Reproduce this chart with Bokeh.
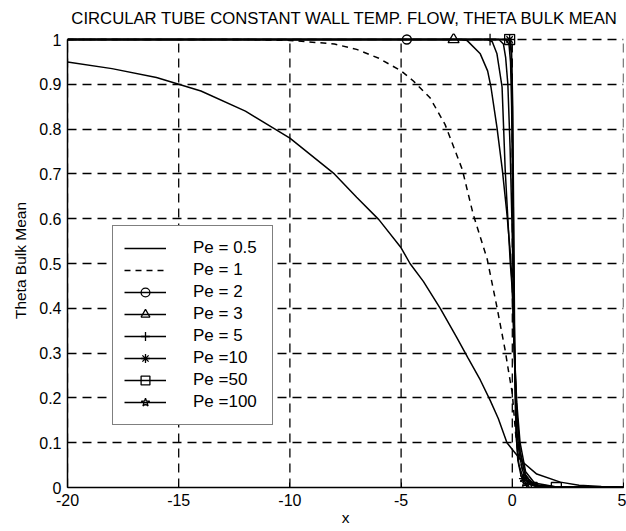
from bokeh.plotting import figure
from bokeh.models import Range1d, FixedTicker, Legend, LegendItem
from bokeh.embed import file_html
from bokeh.resources import INLINE

# ---------------- data ----------------
title_text = "CIRCULAR TUBE CONSTANT WALL TEMP. FLOW, THETA BULK MEAN"
x_label = "x"
y_label = "Theta Bulk Mean"

x_ticks = [-20, -15, -10, -5, 0, 5]
x_tick_labels = ["-20", "-15", "-10", "-5", "0", "5"]
y_ticks = [0, 0.1, 0.2, 0.3, 0.4, 0.5, 0.6, 0.7, 0.8, 0.9, 1]
y_tick_labels = ["0", "0.1", "0.2", "0.3", "0.4", "0.5", "0.6", "0.7", "0.8", "0.9", "1"]

series_names = ["Pe = 0.5", "Pe = 1", "Pe = 2", "Pe = 3", "Pe = 5", "Pe =10", "Pe =50", "Pe =100"]

x_pe05 = [-20, -18, -16, -15, -14, -12, -10, -8, -7, -6, -5, -4.6, -4, -3.24, -2.5, -2,
          -1.44, -1, -0.63, -0.24, 0, 0.44, 1.1, 2.16, 3, 4, 5]
t_pe05 = [0.95, 0.935, 0.915, 0.90, 0.885, 0.84, 0.78, 0.70, 0.648, 0.598, 0.535, 0.50, 0.46,
          0.40, 0.335, 0.29, 0.24, 0.195, 0.154, 0.10, 0.085, 0.058, 0.03, 0.012, 0.005, 0.002, 0.001]

x_pe1 = [-20, -12, -10, -8, -7, -6, -5, -4.46, -3.7, -3.02, -2.25, -1.76, -1.13, -0.68, -0.32,
         -0.17, 0, 0.15, 0.3, 0.5, 0.8, 1.2, 2, 5]
t_pe1 = [1.0, 1.0, 0.998, 0.99, 0.978, 0.958, 0.93, 0.908, 0.87, 0.81, 0.71, 0.61, 0.51, 0.40, 0.306,
         0.26, 0.21, 0.12, 0.065, 0.035, 0.015, 0.006, 0.001, 0.0]

x_pe2 = [-20, -2.3, -2.04, -1.44, -1.11, -0.96, -0.69, -0.45, -0.24, -0.1, 0, 0.1, 0.2, 0.35,
         0.6, 1.0, 2, 5]
t_pe2 = [1.0, 1.0, 0.998, 0.968, 0.93, 0.894, 0.804, 0.71, 0.61, 0.53, 0.45, 0.30, 0.19, 0.10,
         0.035, 0.01, 0.001, 0.0]

x_pe3 = [-20, -1.1, -0.9, -0.69, -0.46, -0.32, -0.2, -0.09, 0, 0.1, 0.2, 0.35, 0.6, 1.0, 2, 5]
t_pe3 = [1.0, 1.0, 0.995, 0.968, 0.894, 0.71, 0.6, 0.5, 0.44, 0.28, 0.17, 0.08, 0.025, 0.006,
         0.001, 0.0]

x_pe5 = [-20, -0.6, -0.4, -0.3, -0.2, -0.1, 0, 0.05, 0.1, 0.2, 0.35, 0.6, 1.0, 2, 5]
t_pe5 = [1.0, 1.0, 0.99, 0.96, 0.9, 0.76, 0.56, 0.42, 0.30, 0.17, 0.08, 0.025, 0.005, 0.001, 0.0]

x_pe10 = [-20, -0.3, -0.15, -0.08, -0.03, 0, 0.05, 0.1, 0.15, 0.22, 0.3, 0.45, 0.6, 0.8, 1.2, 2, 5]
t_pe10 = [1.0, 1.0, 0.99, 0.95, 0.85, 0.72, 0.5, 0.32, 0.2, 0.12, 0.08, 0.04, 0.02, 0.01, 0.004,
          0.001, 0.0]

x_pe50 = [-20, -0.12, -0.05, 0, 0.05, 0.1, 0.15, 0.2, 0.3, 0.5, 0.8, 1.2, 2, 5]
t_pe50 = [1.0, 1.0, 0.97, 0.85, 0.6, 0.3, 0.16, 0.1, 0.05, 0.02, 0.008, 0.003, 0.001, 0.0]

x_pe100 = [-20, -0.08, -0.03, 0.02, 0.07, 0.12, 0.17, 0.25, 0.4, 0.6, 1.0, 2, 5]
t_pe100 = [1.0, 1.0, 0.97, 0.85, 0.55, 0.25, 0.12, 0.06, 0.025, 0.01, 0.003, 0.001, 0.0]

# marker positions seen on the curves
mx_pe2 = [-4.74]
mt_pe2 = [1.0]
mx_pe3 = [-2.64]
mt_pe3 = [1.0]
mx_pe5 = [-1.0]
mt_pe5 = [1.0]
mx_pe10 = [-0.12, 0.5]
mt_pe10 = [1.0, 0.02]
mx_pe50 = [-0.12, 0.89, 1.98]
mt_pe50 = [1.0, 0.0, 0.0]
mx_pe100 = [0.6, 0.75]
mt_pe100 = [0.012, 0.006]

# ---------------- figure ----------------
FONT = "Liberation Sans"
Y_TOP = 1.0134  # small headroom so markers sitting on theta = 1 are not clipped

p = figure(width=626, height=531, output_backend="svg", toolbar_location=None,
           x_range=Range1d(-20, 5), y_range=Range1d(0, Y_TOP),
           min_border_left=67, min_border_top=33, min_border_right=3, min_border_bottom=44,
           background_fill_color="white", border_fill_color="white")
p.outline_line_color = None

p.title.text = title_text
p.title.align = "center"
p.title.text_font = FONT
p.title.text_font_size = "16.7px"
p.title.text_font_style = "normal"
p.title.text_color = "black"
p.title.offset = 0
p.title.standoff = 11

for ax in (p.xaxis[0], p.yaxis[0]):
    ax.axis_line_color = "black"
    ax.axis_line_width = 1.5
    ax.major_tick_in = 5
    ax.major_tick_out = 0
    ax.major_tick_line_color = "black"
    ax.major_tick_line_width = 1
    ax.minor_tick_line_color = None
    ax.major_label_text_font = FONT
    ax.major_label_text_font_size = "16px"
    ax.major_label_text_color = "black"
    ax.axis_label_text_font = FONT
    ax.axis_label_text_font_size = "15.5px"
    ax.axis_label_text_font_style = "normal"
    ax.axis_label_text_color = "black"

p.xaxis.ticker = FixedTicker(ticks=x_ticks)
p.yaxis.ticker = FixedTicker(ticks=y_ticks)
p.xaxis.major_label_overrides = dict(zip(x_ticks, x_tick_labels))
p.yaxis.major_label_overrides = dict(zip(y_ticks, y_tick_labels))
p.xaxis.axis_label = x_label
p.yaxis.axis_label = y_label
p.xaxis.major_label_standoff = 6
p.yaxis.major_label_standoff = 6
p.xaxis.axis_label_standoff = 0
p.yaxis.axis_label_standoff = 7
p.yaxis.bounds = (y_ticks[0], y_ticks[-1])

GRID = dict(line_color="black", line_width=1.3, line_dash="9 6")
# horizontal grid from Bokeh; vertical grid lines stop at theta = 1
p.ygrid.grid_line_color = GRID["line_color"]
p.ygrid.grid_line_width = GRID["line_width"]
p.ygrid.grid_line_dash = GRID["line_dash"]
p.xgrid.grid_line_color = None
p.segment(x0=x_ticks, y0=[y_ticks[0]] * len(x_ticks), x1=x_ticks, y1=[y_ticks[-1]] * len(x_ticks),
          level="underlay", **GRID)

LW = 1.5
r05 = p.line(x_pe05, t_pe05, line_color="black", line_width=LW)
r1 = p.line(x_pe1, t_pe1, line_color="black", line_width=LW, line_dash="6 5")
r2 = p.line(x_pe2, t_pe2, line_color="black", line_width=LW)
r3 = p.line(x_pe3, t_pe3, line_color="black", line_width=LW)
r5 = p.line(x_pe5, t_pe5, line_color="black", line_width=LW)
r10 = p.line(x_pe10, t_pe10, line_color="black", line_width=LW)
r50 = p.line(x_pe50, t_pe50, line_color="black", line_width=LW)
r100 = p.line(x_pe100, t_pe100, line_color="black", line_width=LW)

mk = dict(line_color="black", line_width=1.3, fill_alpha=0)
m2 = p.scatter(mx_pe2, mt_pe2, marker="circle", size=9, **mk)
m3 = p.scatter(mx_pe3, mt_pe3, marker="triangle", size=11, **mk)
m5 = p.scatter(mx_pe5, mt_pe5, marker="cross", size=12, **mk)
m10 = p.scatter(mx_pe10, mt_pe10, marker="asterisk", size=9, **mk)
m50 = p.scatter(mx_pe50, mt_pe50, marker="square", size=10, **mk)
m100 = p.scatter(mx_pe100, mt_pe100, marker="star", size=11, **mk)

items = [
    LegendItem(label=series_names[0], renderers=[r05]),
    LegendItem(label=series_names[1], renderers=[r1]),
    LegendItem(label=series_names[2], renderers=[r2, m2]),
    LegendItem(label=series_names[3], renderers=[r3, m3]),
    LegendItem(label=series_names[4], renderers=[r5, m5]),
    LegendItem(label=series_names[5], renderers=[r10, m10]),
    LegendItem(label=series_names[6], renderers=[r50, m50]),
    LegendItem(label=series_names[7], renderers=[r100, m100]),
]
legend = Legend(items=items, location=(45, 62))
legend.border_line_color = "black"
legend.border_line_width = 1.5
legend.background_fill_color = "white"
legend.background_fill_alpha = 1
legend.label_text_font = FONT
legend.label_text_font_size = "17px"
legend.label_text_color = "black"
legend.glyph_width = 42
legend.glyph_height = 22
legend.label_height = 22
legend.label_width = 68
legend.label_standoff = 27
legend.spacing = 0
legend.padding = 11
legend.margin = 0
p.add_layout(legend, "center")

open("out.html", "w").write(file_html(p, INLINE))
